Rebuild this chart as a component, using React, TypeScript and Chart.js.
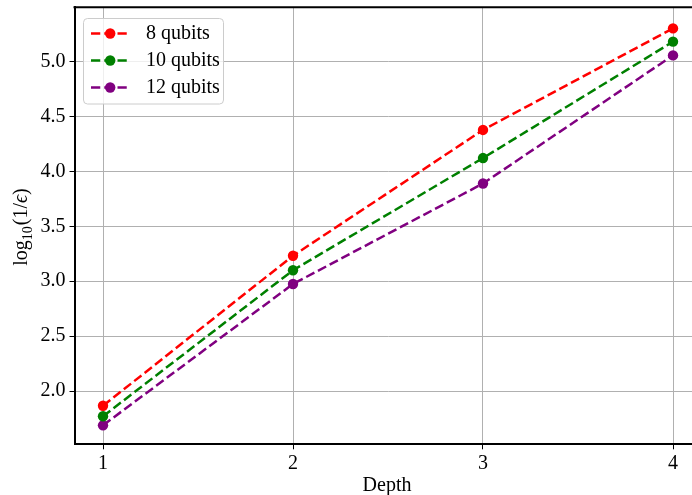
import React, { useEffect, useRef } from "react";
import { Chart, registerables } from "chart.js";

Chart.register(...registerables);

const depths = [1, 2, 3, 4];
const seriesLabels = ["8 qubits", "10 qubits", "12 qubits"];
const qubits8 = [1.866, 3.232, 4.378, 5.303];
const qubits10 = [1.77, 3.1, 4.122, 5.182];
const qubits12 = [1.688, 2.975, 3.89, 5.057];
const seriesColors = ["#ff0000", "#008000", "#800080"];
const yTickValues = [2.0, 2.5, 3.0, 3.5, 4.0, 4.5, 5.0];
const xTickValues = [1, 2, 3, 4];
const xTitle = "Depth";

const FONT = "'Liberation Serif', 'DejaVu Serif', serif";
const DASH = [9.25, 4];
const LW = 2.5;

const overlayPlugin = {
  id: "overlay",
  afterDraw(chart: any) {
    const ctx = chart.ctx as CanvasRenderingContext2D;
    const a = chart.chartArea;
    ctx.save();
    // top spine
    ctx.strokeStyle = "#000";
    ctx.lineWidth = 2;
    ctx.beginPath();
    ctx.moveTo(a.left - 1, a.top);
    ctx.lineTo(a.right + 1, a.top);
    ctx.stroke();

    // x title
    ctx.fillStyle = "#000";
    ctx.font = `20px ${FONT}`;
    ctx.textAlign = "center";
    ctx.textBaseline = "alphabetic";
    ctx.fillText(xTitle, 387, 491);

    // y title: log_10(1/ϵ)
    ctx.save();
    ctx.translate(27, 227);
    ctx.rotate(-Math.PI / 2);
    const parts = [
      { t: "log", f: `20px ${FONT}`, dy: 0 },
      { t: "10", f: `14px ${FONT}`, dy: 5 },
      { t: "(1/", f: `20px ${FONT}`, dy: 0 },
      { t: "\u03F5", f: `italic 20px ${FONT}`, dy: 0 },
      { t: ")", f: `20px ${FONT}`, dy: 0 },
    ];
    let total = 0;
    for (const p of parts) {
      ctx.font = p.f;
      total += ctx.measureText(p.t).width + (p.t === "10" ? 1 : 0);
    }
    let x = -total / 2;
    ctx.textAlign = "left";
    for (const p of parts) {
      ctx.font = p.f;
      ctx.fillText(p.t, x, p.dy);
      x += ctx.measureText(p.t).width + (p.t === "10" ? 1 : 0);
    }
    ctx.restore();

    // legend
    const bx = 83.5, by = 18.5, bw = 140, bh = 85.5, r = 4;
    ctx.beginPath();
    ctx.moveTo(bx + r, by);
    ctx.lineTo(bx + bw - r, by);
    ctx.quadraticCurveTo(bx + bw, by, bx + bw, by + r);
    ctx.lineTo(bx + bw, by + bh - r);
    ctx.quadraticCurveTo(bx + bw, by + bh, bx + bw - r, by + bh);
    ctx.lineTo(bx + r, by + bh);
    ctx.quadraticCurveTo(bx, by + bh, bx, by + bh - r);
    ctx.lineTo(bx, by + r);
    ctx.quadraticCurveTo(bx, by, bx + r, by);
    ctx.closePath();
    ctx.fillStyle = "rgba(255,255,255,0.8)";
    ctx.fill();
    ctx.strokeStyle = "#cccccc";
    ctx.lineWidth = 1;
    ctx.stroke();

    chart.data.datasets.forEach((ds: any, i: number) => {
      const yy = 33.5 + i * 27;
      ctx.strokeStyle = ds.borderColor;
      ctx.lineWidth = LW;
      ctx.setLineDash(DASH);
      ctx.beginPath();
      ctx.moveTo(91, yy);
      ctx.lineTo(129.5, yy);
      ctx.stroke();
      ctx.setLineDash([]);
      ctx.fillStyle = ds.borderColor;
      ctx.beginPath();
      ctx.arc(110.2, yy, 5.2, 0, Math.PI * 2);
      ctx.fill();
      ctx.fillStyle = "#000";
      ctx.font = `20px ${FONT}`;
      ctx.textAlign = "left";
      ctx.textBaseline = "middle";
      ctx.fillText(ds.label, 146, yy);
    });
    ctx.restore();
  },
};

export default function App() {
  const ref = useRef<HTMLCanvasElement | null>(null);
  useEffect(() => {
    if (!ref.current) return;
    const series = [qubits8, qubits10, qubits12];
    const chart = new Chart(ref.current, {
      type: "line",
      data: {
        datasets: series.map((vals, i) => ({
          label: seriesLabels[i],
          data: depths.map((d, j) => ({ x: d, y: vals[j] })),
          borderColor: seriesColors[i],
          backgroundColor: seriesColors[i],
          pointBackgroundColor: seriesColors[i],
          pointBorderWidth: 0,
          pointRadius: 5.2,
          borderWidth: LW,
          borderDash: DASH,
          fill: false,
          tension: 0,
        })),
      },
      options: {
        animation: false,
        responsive: false,
        devicePixelRatio: 1,
        layout: { padding: { left: 0, right: 10.5, top: 7.3, bottom: 0 } },
        plugins: { legend: { display: false }, tooltip: { enabled: false } },
        scales: {
          x: {
            type: "linear",
            min: 0.85,
            max: 4.15,
            afterBuildTicks: (s: any) => {
              s.ticks = xTickValues.map((v) => ({ value: v }));
            },
            afterFit: (s: any) => {
              s.height = 50.7;
              s.paddingLeft = 0;
              s.paddingRight = 0;
            },
            grid: { color: "#b0b0b0", lineWidth: 1, tickLength: 5, tickColor: "#000", tickWidth: 1 },
            border: { color: "#000", width: 2 },
            ticks: {
              color: "#000",
              font: { family: FONT, size: 20 },
              padding: 2,
              maxRotation: 0,
              callback: (v: any) => String(v),
            },
          },
          y: {
            type: "linear",
            min: 1.515,
            max: 5.495,
            afterBuildTicks: (s: any) => {
              s.ticks = yTickValues.map((v) => ({ value: v }));
            },
            afterFit: (s: any) => {
              s.width = 74.5;
              s.paddingTop = 0;
              s.paddingBottom = 0;
            },
            grid: { color: "#b0b0b0", lineWidth: 1, tickLength: 5, tickColor: "#000", tickWidth: 1 },
            border: { color: "#000", width: 2 },
            ticks: {
              color: "#000",
              font: { family: FONT, size: 20 },
              padding: 4,
              callback: (v: any) => Number(v).toFixed(1),
            },
          },
        },
      },
      plugins: [overlayPlugin],
    });
    return () => chart.destroy();
  }, []);
  return (
    <div
      style={{
        position: "fixed",
        left: 0,
        top: 0,
        width: 692,
        height: 495,
        overflow: "hidden",
        background: "#fff",
      }}
    >
      <canvas ref={ref} width={712} height={495} style={{ display: "block" }} />
    </div>
  );
}
